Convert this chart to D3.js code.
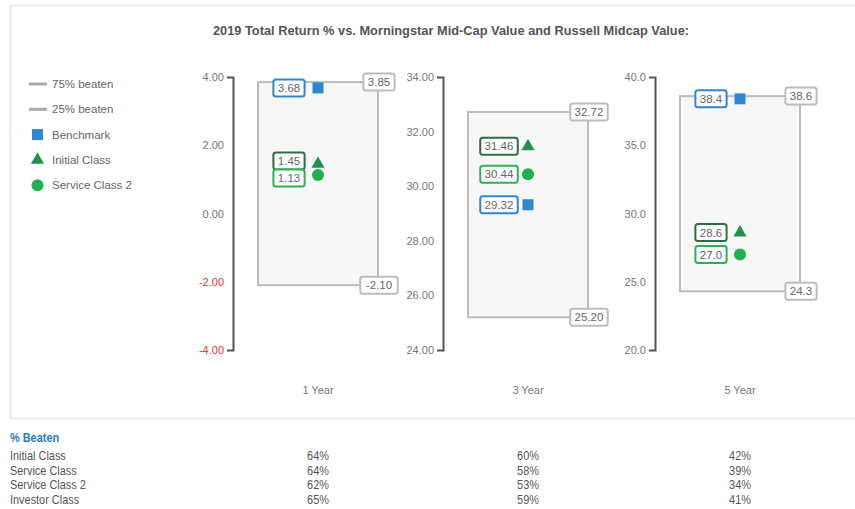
<!DOCTYPE html>
<html>
<head>
<meta charset="utf-8">
<script src="https://cdn.jsdelivr.net/npm/d3@7"></script>
<style>
  html, body { margin: 0; padding: 0; background: #fff; }
  svg { display: block; }
</style>
</head>
<body>
<svg id="chart" width="855" height="509"></svg>
<script>
const categories = ["1 Year", "3 Year", "5 Year"];
const p75 = [3.85, 32.72, 38.6];
const p25 = [-2.10, 25.20, 24.3];
const benchmark = [3.68, 29.32, 38.4];
const initialClass = [1.45, 31.46, 28.6];
const serviceClass2 = [1.13, 30.44, 27.0];
const axisMin = [-4, 24, 20];
const axisMax = [4, 34, 40];
const tickStep = [2, 2, 5];
const decimals = [2, 2, 1];

const beatenRows = ["Initial Class", "Service Class", "Service Class 2", "Investor Class"];
const beaten1 = ["64%", "64%", "62%", "65%"];
const beaten3 = ["60%", "58%", "53%", "59%"];
const beaten5 = ["42%", "39%", "34%", "41%"];

const legendItems = ["75% beaten", "25% beaten", "Benchmark", "Initial Class", "Service Class 2"];

const C = {
  blue: "#2f87d3", dkgreen: "#22924a", dkgreenBorder: "#2f6e40", green: "#1fb04f",
  greenBorder: "#2bb252", gray: "#bcbcbc", text: "#666", axis: "#555", red: "#e8343a"
};
const FONT = "Liberation Sans, Arial, sans-serif";
const locale = d3.formatLocale({ decimal: ".", thousands: ",", grouping: [3], currency: ["$", ""], minus: "-" });

const svg = d3.select("#chart");

// outer panel
svg.append("rect").attr("x", 10.5).attr("y", 5.5).attr("width", 860).attr("height", 413)
  .attr("fill", "#fff").attr("stroke", "#e6e6e6").attr("stroke-width", 1.5);

svg.append("text").attr("transform", "translate(451,35) scale(0.95,1)").attr("text-anchor", "middle")
  .attr("font-family", FONT).attr("font-weight", "bold")
  .attr("font-size", 13.5).attr("fill", "#555")
  .text("2019 Total Return % vs. Morningstar Mid-Cap Value and Russell Midcap Value:");

// legend
const leg = svg.append("g").attr("font-family", FONT).attr("font-size", 11.5).attr("fill", C.text);
legendItems.forEach((t, i) => {
  const y = 84 + i * 25.3;
  const g = leg.append("g").attr("transform", `translate(0,${y})`);
  if (i < 2) g.append("line").attr("x1", 29).attr("x2", 47).attr("stroke", "#aaa").attr("stroke-width", 3);
  else if (i === 2) g.append("rect").attr("x", 32).attr("y", -5.5).attr("width", 11).attr("height", 11).attr("fill", C.blue);
  else if (i === 3) g.append("path").attr("transform", "translate(37.5,0)").attr("d", d3.symbol(d3.symbolTriangle, 75)()).attr("fill", C.dkgreen);
  else g.append("circle").attr("cx", 37.5).attr("r", 6).attr("fill", C.green);
  g.append("text").attr("x", 52).attr("dy", "0.35em").text(t);
});

const axisX = [233, 443, 655];
const yTop = 77, yBot = 350;

function labelBox(g, x, y, text, stroke) {
  const w = text.length * 6.3 + 6, h = 17;
  const lg = g.append("g").attr("transform", `translate(${x},${y})`);
  lg.append("rect").attr("x", -w / 2).attr("y", -h / 2).attr("width", w).attr("height", h)
    .attr("rx", 2.5).attr("fill", "#fff").attr("stroke", stroke).attr("stroke-width", 2);
  lg.append("text").attr("text-anchor", "middle").attr("dy", "0.36em")
    .attr("font-family", FONT).attr("font-size", 11.5).attr("fill", C.text).text(text);
}

categories.forEach((cat, i) => {
  const ax = axisX[i];
  const y = d3.scaleLinear().domain([axisMin[i], axisMax[i]]).range([yBot, yTop]);
  const fmt = locale.format(`.${decimals[i]}f`);
  const ticks = d3.range(axisMin[i], axisMax[i] + tickStep[i] / 2, tickStep[i]);
  const g = svg.append("g");

  const axis = d3.axisLeft(y).tickValues(ticks).tickFormat(fmt).tickSizeInner(0).tickSizeOuter(6).tickPadding(9);
  const ag = g.append("g").attr("transform", `translate(${ax},0)`).call(axis);
  ag.select(".domain").attr("stroke", C.axis).attr("stroke-width", 2);
  ag.selectAll(".tick text").attr("font-family", FONT).attr("font-size", 11)
    .attr("fill", d => d < 0 ? C.red : "#777");

  const x0 = ax + 25, x1 = ax + 145, xm = ax + 85;
  // box
  g.append("rect").attr("x", x0).attr("y", y(p75[i])).attr("width", x1 - x0)
    .attr("height", y(p25[i]) - y(p75[i])).attr("fill", "#f7f7f7")
    .attr("stroke", C.gray).attr("stroke-width", 2);

  // markers
  g.append("rect").attr("x", xm - 5.5).attr("y", y(benchmark[i]) - 5.5).attr("width", 11).attr("height", 11).attr("fill", C.blue);
  g.append("path").attr("transform", `translate(${xm},${y(initialClass[i])})`).attr("d", d3.symbol(d3.symbolTriangle, 75)()).attr("fill", C.dkgreen);
  g.append("circle").attr("cx", xm).attr("cy", y(serviceClass2[i])).attr("r", 6).attr("fill", C.green);

  // point labels with dodge
  const labs = [
    { v: benchmark[i], c: C.blue },
    { v: initialClass[i], c: C.dkgreenBorder },
    { v: serviceClass2[i], c: C.greenBorder }
  ].map(d => ({ ...d, y: y(d.v) })).sort((a, b) => a.y - b.y);
  const gap = 17;
  for (let k = 1; k < labs.length; k++) {
    const prev = labs[k - 1], cur = labs[k];
    if (cur.y - prev.y < gap) {
      const mid = (cur.y + prev.y) / 2;
      prev.y = mid - gap / 2; cur.y = mid + gap / 2;
    }
  }
  labs.forEach(d => labelBox(g, ax + 56, d.y, fmt(d.v), d.c));

  labelBox(g, x1 + 1, y(p75[i]), fmt(p75[i]), C.gray);
  labelBox(g, x1 + 1, y(p25[i]), fmt(p25[i]), C.gray);

  g.append("text").attr("x", xm).attr("y", 394).attr("text-anchor", "middle")
    .attr("font-family", FONT).attr("font-size", 11).attr("fill", "#777").text(cat);
});

// % Beaten table
const SX = 0.84;
svg.append("text").attr("transform", `translate(10,442) scale(${SX},1)`).attr("font-family", FONT).attr("font-weight", "bold")
  .attr("font-size", 13).attr("fill", "#2a7bbd").text("% Beaten");
const cols = [beaten1, beaten3, beaten5];
beatenRows.forEach((r, k) => {
  const yy = 460 + k * 14.6;
  svg.append("text").attr("transform", `translate(10,${yy}) scale(${SX},1)`).attr("font-family", FONT).attr("font-size", 13)
    .attr("fill", "#555").text(r);
  cols.forEach((col, j) => {
    svg.append("text").attr("transform", `translate(${axisX[j] + 85},${yy}) scale(${SX},1)`).attr("text-anchor", "middle")
      .attr("font-family", FONT).attr("font-size", 13).attr("fill", "#555").text(col[k]);
  });
});
</script>
</body>
</html>
